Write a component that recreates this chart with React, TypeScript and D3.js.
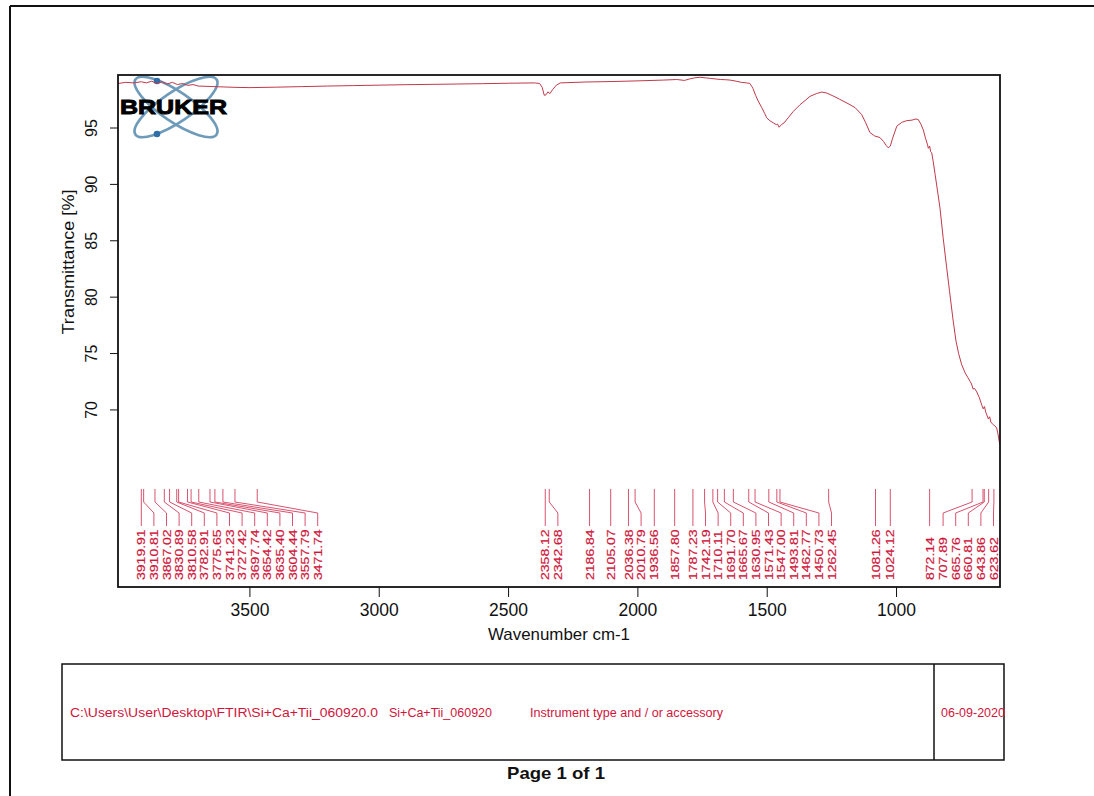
import React from "react";
import * as d3 from "d3";

// ---- Data ----
const wavenumbers = [
  4008, 3980, 3950, 3920, 3900, 3880, 3860, 3840, 3820, 3800, 3780, 3760, 3740, 3720, 3700,
  3650, 3600, 3550, 3500, 3400, 3300, 3200, 3100, 3000, 2900, 2800, 2700, 2600, 2500, 2400,
  2380, 2370, 2362, 2355, 2348, 2340, 2330, 2315, 2300, 2200, 2100, 2000, 1900, 1850, 1820,
  1800, 1780, 1760, 1740, 1720, 1700, 1680, 1660, 1644, 1620, 1600, 1580, 1567, 1560, 1555,
  1545, 1535, 1521, 1510, 1502, 1490, 1476, 1465, 1460, 1454, 1445, 1435, 1419, 1400, 1373,
  1350, 1335, 1310, 1289, 1270, 1246, 1220, 1180, 1160, 1135, 1120, 1103, 1085, 1064, 1050,
  1040, 1032, 1024, 1015, 999, 980, 961, 940, 925, 916, 905, 897, 888, 880, 877, 872, 868,
  864, 858, 851, 842, 832, 820, 806, 795, 781, 770, 760, 748, 735, 725, 716, 710, 704, 698,
  690, 680, 670, 665, 660, 655, 645, 640, 635, 626, 620, 613, 608, 603, 600,
];
const transmittance = [
  98.95, 99.05, 99.0, 99.1, 99.0, 99.15, 98.95, 99.1, 98.9, 99.05, 98.85, 98.95, 98.78, 98.85, 98.72,
  98.68, 98.64, 98.6, 98.58, 98.62, 98.67, 98.72, 98.76, 98.8, 98.84, 98.87, 98.9, 98.93, 98.97, 99.0,
  98.95, 98.6, 97.9, 97.95, 98.2, 98.05, 98.4, 98.8, 99.0, 99.08, 99.12, 99.18, 99.25, 99.3, 99.22,
  99.35, 99.45, 99.5, 99.45, 99.4, 99.35, 99.3, 99.28, 99.25, 99.15, 99.05, 99.0, 98.95, 98.7, 98.5,
  97.9, 97.4, 96.8, 96.3, 95.9, 95.65, 95.45, 95.3, 95.35, 95.07, 95.3, 95.45, 95.9, 96.45, 97.07,
  97.5, 97.8, 98.05, 98.19, 98.1, 97.85, 97.55, 97.07, 96.8, 96.2, 95.5, 94.6, 94.3, 94.15, 93.8,
  93.45, 93.25, 93.4, 94.1, 95.16, 95.5, 95.65, 95.7, 95.8, 95.74, 95.3, 94.86, 94.1, 93.5, 93.2, 93.4, 92.9,
  92.8, 92.0, 90.9, 89.5, 87.9, 85.3, 82.6, 80.5, 77.9, 76.1, 75.0, 74.0, 73.3, 72.9, 72.55, 72.3, 71.85, 71.9,
  71.6, 71.1, 70.4, 70.1, 70.3, 69.8, 69.2, 69.4, 68.9, 68.7, 68.6, 68.4, 67.9, 67.2, 66.9,
];

const peakLabels = [
  "3919.91", "3910.81", "3867.02", "3830.89", "3810.58", "3782.91", "3775.65", "3741.23",
  "3727.42", "3697.74", "3654.42", "3635.40", "3604.44", "3557.79", "3471.74",
  "2358.12", "2342.68", "2186.84", "2105.07", "2036.38", "2010.79", "1936.56", "1857.80",
  "1787.23", "1742.19", "1710.11", "1691.70", "1665.67", "1630.95", "1571.43", "1547.00",
  "1493.81", "1462.77", "1450.73", "1262.45", "1081.26", "1024.12", "872.14", "707.89",
  "665.76", "660.81", "643.86", "623.62",
];

const xTickValues = [3500, 3000, 2500, 2000, 1500, 1000];
const yTickValues = [95, 90, 85, 80, 75, 70];

const footerPath = "C:\\Users\\User\\Desktop\\FTIR\\Si+Ca+Tii_060920.0";
const footerSample = "Si+Ca+Tii_060920";
const footerInstrument = "Instrument type and / or accessory";
const footerDate = "06-09-2020";

const FONT = "'Liberation Sans', Arial, Helvetica, sans-serif";
const RED = "#d0153b";
const CURVE = "#c0394a";

export default function App() {
  const left = 118, right = 1000, top = 75, bottom = 587;
  const x = d3.scaleLinear().domain([4010, 600]).range([left, right]);
  const y = d3.scaleLinear().domain([54.3, 99.7]).range([bottom, top]);

  const pts = wavenumbers.map((w, i) => [w, transmittance[i]] as [number, number]);
  const line = d3
    .line<[number, number]>()
    .x((d) => x(d[0]))
    .y((d) => y(d[1]));

  // Peak label layout: forward push, then backward push against the right edge
  const gap = 12.6;
  const nat = peakLabels.map((p) => x(parseFloat(p)));
  const pos = nat.slice();
  for (let i = 1; i < pos.length; i++) pos[i] = Math.max(pos[i], pos[i - 1] + gap);
  pos[pos.length - 1] = Math.min(pos[pos.length - 1], right - 6.5);
  for (let i = pos.length - 2; i >= 0; i--) pos[i] = Math.min(pos[i], pos[i + 1] - gap);

  const tickTop = 489, bend1 = 502, bend2 = 513, lineEnd = 526, textBase = 580;

  return (
    <svg
      width={1094}
      height={796}
      style={{ position: "absolute", left: 0, top: 0, display: "block", background: "#fff" }}
      fontFamily={FONT}
    >
      <rect x={0} y={0} width={1094} height={796} fill="#fff" />
      {/* page border */}
      <line x1={10} y1={6} x2={1094} y2={6} stroke="#111" strokeWidth={2} />
      <line x1={10} y1={6} x2={10} y2={796} stroke="#111" strokeWidth={2} />

      {/* Bruker logo */}
      <g>
        <ellipse cx={176} cy={107} rx={49} ry={15} transform="rotate(34 176 107)" fill="none" stroke="#6f9bbb" strokeWidth={2.6} />
        <ellipse cx={176} cy={107} rx={49} ry={15} transform="rotate(-34 176 107)" fill="none" stroke="#6f9bbb" strokeWidth={2.6} />
        <circle cx={157} cy={81} r={3.3} fill="#2f6ea6" />
        <circle cx={157} cy={134} r={3.3} fill="#2f6ea6" />
        <text
          x={120}
          y={114}
          fontSize={20}
          fontWeight={900}
          fill="#000"
          stroke="#000"
          strokeWidth={0.9}
          textLength={107}
          lengthAdjust="spacingAndGlyphs"
        >
          BRUKER
        </text>
      </g>

      {/* spectrum */}
      <path d={line(pts) || ""} fill="none" stroke={CURVE} strokeWidth={1} />

      {/* plot frame */}
      <rect x={left} y={top} width={right - left} height={bottom - top} fill="none" stroke="#111" strokeWidth={1.8} />

      {/* peak markers */}
      {peakLabels.map((p, i) => {
        const xn = nat[i], xl = pos[i];
        const d = `M${xn},${tickTop}V${bend1}L${xl},${bend2}V${lineEnd}`;
        return <path key={"pl" + i} d={d} fill="none" stroke="#d4405e" strokeWidth={0.9} />;
      })}
      {peakLabels.map((p, i) => (
        <text
          key={"pt" + i}
          transform={`translate(${pos[i]},${textBase}) rotate(-90) scale(1.22,1)`}
          dy="0.36em"
          fontSize={11.5}
          fill={RED}
          stroke={RED}
          strokeWidth={0.2}
        >
          {p}
        </text>
      ))}

      {/* x axis ticks */}
      {xTickValues.map((t) => (
        <g key={"xt" + t}>
          <line x1={x(t)} x2={x(t)} y1={bottom} y2={bottom + 10} stroke="#111" strokeWidth={1} />
          <text x={x(t)} y={616} textAnchor="middle" fontSize={17.5} fill="#111">
            {t}
          </text>
        </g>
      ))}
      <text x={(left + right) / 2} y={640} textAnchor="middle" fontSize={17} fill="#111" textLength={142} lengthAdjust="spacingAndGlyphs">
        Wavenumber cm-1
      </text>

      {/* y axis ticks */}
      {yTickValues.map((t) => (
        <g key={"yt" + t}>
          <line x1={left - 8} x2={left} y1={y(t)} y2={y(t)} stroke="#111" strokeWidth={1} />
          <text
            transform={`translate(${97},${y(t)}) rotate(-90)`}
            textAnchor="middle"
            fontSize={16}
            fill="#111"
          >
            {t}
          </text>
        </g>
      ))}
      <text
        transform={`translate(74,262) rotate(-90)`}
        textAnchor="middle"
        fontSize={16}
        fill="#111"
        textLength={145}
        lengthAdjust="spacingAndGlyphs"
      >
        Transmittance [%]
      </text>

      {/* footer box */}
      <rect x={62} y={664} width={942} height={96} fill="none" stroke="#111" strokeWidth={1.5} />
      <line x1={934} x2={934} y1={664} y2={760} stroke="#111" strokeWidth={1.5} />
      <text x={70} y={717} fontSize={12} fill={RED} textLength={308} lengthAdjust="spacingAndGlyphs">
        {footerPath}
      </text>
      <text x={389} y={717} fontSize={12} fill={RED} textLength={103} lengthAdjust="spacingAndGlyphs">
        {footerSample}
      </text>
      <text x={530} y={717} fontSize={12} fill={RED} textLength={193} lengthAdjust="spacingAndGlyphs">
        {footerInstrument}
      </text>
      <text x={941} y={717} fontSize={12} fill={RED} textLength={64} lengthAdjust="spacingAndGlyphs">
        {footerDate}
      </text>
      <text x={556} y={779} textAnchor="middle" fontSize={17} fontWeight="bold" fill="#111" textLength={98} lengthAdjust="spacingAndGlyphs">
        Page 1 of 1
      </text>
    </svg>
  );
}
